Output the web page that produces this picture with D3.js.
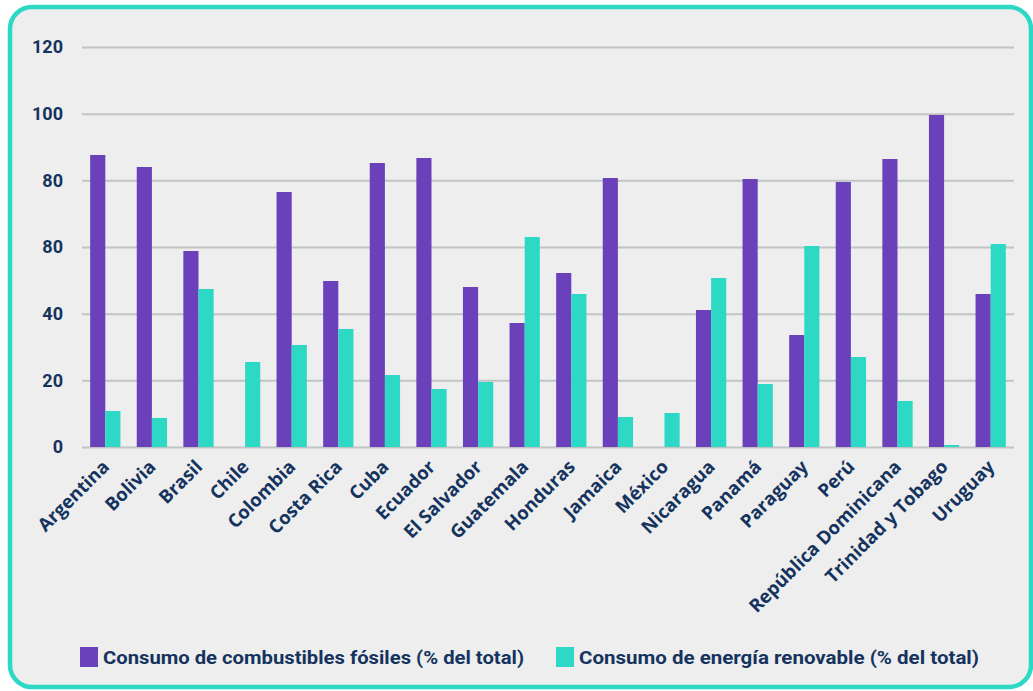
<!DOCTYPE html>
<html>
<head>
<meta charset="utf-8">
<script src="https://cdn.jsdelivr.net/npm/d3@7"></script>
<style>
  html, body { margin: 0; padding: 0; background: #ffffff; }
  #chart { width: 1033px; height: 691px; }
</style>
</head>
<body>
<div id="chart"></div>
<script>
// Latin America: fossil fuel vs renewable energy consumption (% of total)
var countries = ['Argentina','Bolivia','Brasil','Chile','Colombia','Costa Rica','Cuba','Ecuador','El Salvador','Guatemala','Honduras','Jamaica','México','Nicaragua','Panamá','Paraguay','Perú','República Dominicana','Trinidad y Tobago','Uruguay'];
var fossil    = [87.6, 84.0, 58.8, 0, 76.5, 49.8, 85.2, 86.7, 48.0, 37.2, 52.2, 80.7, 0, 41.1, 80.4, 33.6, 79.5, 86.4, 99.6, 45.9];
var renewable = [10.8, 8.7, 47.4, 25.5, 30.6, 35.4, 21.6, 17.4, 19.5, 63.0, 45.9, 9.0, 10.2, 50.7, 18.9, 60.3, 27.0, 13.8, 0.6, 60.9];
var tickValues = [0, 20, 40, 60, 80, 100, 120];
var tickLabels = ['0', '20', '40', '80', '80', '100', '120'];
var seriesNames = ['Consumo de combustibles fósiles (% del total)', 'Consumo de energía renovable (% del total)'];
var seriesColors = ['#6a41bb', '#2dd9c5'];

(function(){
  var W = 1033, H = 691;
  var margin = { top: 47, right: 19, bottom: 244, left: 82 };
  var width = W - margin.left - margin.right;
  var height = H - margin.top - margin.bottom;
  var textColor = '#15335f';

  var svg = d3.select('#chart').append('svg')
    .attr('width', W).attr('height', H);

  // card background + border
  svg.append('rect')
    .attr('x', 10).attr('y', 7)
    .attr('width', 1021).attr('height', 680)
    .attr('rx', 22).attr('ry', 22)
    .attr('fill', '#edeeed')
    .attr('stroke', '#2dd9c5')
    .attr('stroke-width', 4.5);

  var g = svg.append('g').attr('transform', 'translate(' + margin.left + ',' + margin.top + ')');

  var x0 = d3.scaleBand().domain(countries).range([0, width]).paddingInner(0.35).paddingOuter(0.175);
  var x1 = d3.scaleBand().domain([0, 1]).range([0, x0.bandwidth()]);
  var y = d3.scaleLinear().domain([0, 120]).range([height, 0]);

  // gridlines
  g.append('g')
    .call(d3.axisLeft(y).tickValues(tickValues).tickSize(-width).tickFormat(''))
    .call(function(s){ s.select('.domain').remove(); })
    .selectAll('line')
    .attr('stroke', '#c2c3c5')
    .attr('stroke-width', 2);

  // y labels
  var ya = g.append('g')
    .call(d3.axisLeft(y).tickValues(tickValues).tickSize(0).tickPadding(19)
      .tickFormat(function(d, i){ return tickLabels[i]; }));
  ya.select('.domain').remove();
  ya.selectAll('text')
    .style('font-family', 'Roboto, sans-serif')
    .style('font-size', '18px')
    .style('font-weight', '700')
    .style('fill', textColor);

  // bars
  var rows = countries.map(function(c, i){ return { c: c, v: [fossil[i], renewable[i]] }; });
  var groups = g.selectAll('.grp').data(rows).enter().append('g')
    .attr('transform', function(d){ return 'translate(' + x0(d.c) + ',0)'; });
  groups.selectAll('rect')
    .data(function(d){ return d.v.map(function(v, k){ return { k: k, v: v }; }); })
    .enter().append('rect')
    .attr('x', function(d){ return x1(d.k); })
    .attr('width', x1.bandwidth())
    .attr('y', function(d){ return y(d.v); })
    .attr('height', function(d){ return height - y(d.v); })
    .attr('fill', function(d){ return seriesColors[d.k]; });

  // x labels (axis g sets its own font-family, so style the text directly)
  var xa = g.append('g')
    .attr('transform', 'translate(0,' + height + ')')
    .call(d3.axisBottom(x0).tickSize(0).tickPadding(0));
  xa.select('.domain').remove();
  xa.selectAll('text')
    .attr('text-anchor', 'end')
    .attr('dy', '0')
    .attr('transform', 'translate(5,21) rotate(-45)')
    .style('font-family', '"Open Sans", "Noto Sans", sans-serif')
    .style('font-size', '18.5px')
    .style('font-weight', '700')
    .style('fill', textColor);

  // legend
  var legend = svg.append('g').attr('transform', 'translate(80,647)');
  var lx = [0, 476];
  seriesNames.forEach(function(name, i){
    var it = legend.append('g').attr('transform', 'translate(' + lx[i] + ',0)');
    it.append('rect').attr('width', 18).attr('height', 20).attr('fill', seriesColors[i]);
    it.append('text')
      .attr('x', 23).attr('y', 17)
      .style('font-family', 'Roboto, sans-serif')
      .style('font-size', '19px')
      .style('font-weight', '700')
      .style('fill', textColor)
      .attr('textLength', i === 0 ? 421 : 400)
      .attr('lengthAdjust', 'spacingAndGlyphs')
      .text(name);
  });
})();
</script>
</body>
</html>
